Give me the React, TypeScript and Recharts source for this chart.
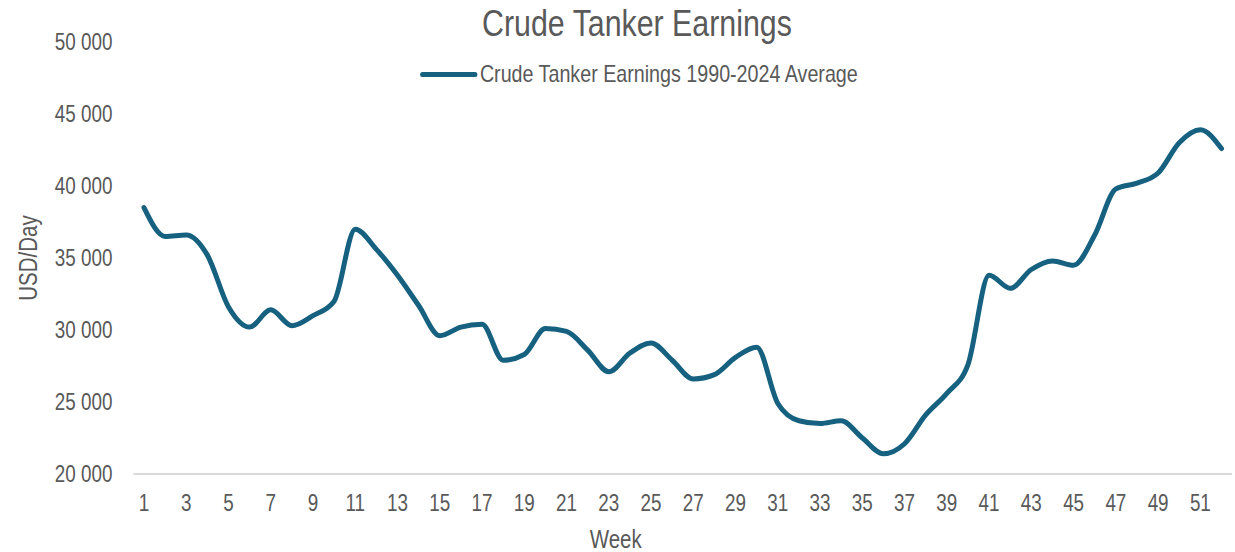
import { LineChart, Line, XAxis, YAxis, Legend } from 'recharts';

const weeks = [
  1, 2, 3, 4, 5, 6, 7, 8, 9, 10, 11, 12, 13, 14, 15, 16, 17, 18, 19, 20, 21, 22, 23, 24, 25, 26,
  27, 28, 29, 30, 31, 32, 33, 34, 35, 36, 37, 38, 39, 40, 41, 42, 43, 44, 45, 46, 47, 48, 49, 50,
  51, 52,
];

// USD/Day, 1990-2024 average by week
const earnings = [
  38500, 36500, 36600, 35200, 31600, 30200, 31400, 30300, 31000, 32000, 37000, 35600, 33800,
  31700, 29600, 30200, 30400, 27900, 28300, 30100, 29900, 28600, 27100, 28400, 29100, 27900,
  26600, 26900, 28100, 28800, 24900, 23700, 23500, 23700, 22500, 21400, 22100, 24100, 25600,
  27600, 33800, 32900, 34200, 34800, 34500, 36600, 39800, 40200, 40900, 43000, 43900, 42600,
];

const yTicks = [20000, 25000, 30000, 35000, 40000, 45000, 50000];

const data = weeks.map((w, i) => ({ week: w, avg: earnings[i] }));

// no Arial Narrow available, so squeeze Liberation Sans horizontally
const FONT = '"Liberation Sans", Arial, sans-serif';
const SQUEEZE = 0.82;
const TEXT = '#595959';
const LINE = '#166080';

const fmt = (v: number) => String(v).replace(/\B(?=(\d{3})+(?!\d))/g, ' ');

function NarrowText({ x, y, anchor, dy, size, rotate = 0, children }: any) {
  return (
    <g transform={`translate(${x},${y}) rotate(${rotate})`}>
      <text
        transform={`scale(${SQUEEZE},1)`}
        textAnchor={anchor}
        dy={dy}
        fill={TEXT}
        fontSize={size}
        fontFamily={FONT}
      >
        {children}
      </text>
    </g>
  );
}

const YTick = ({ x, y, payload }: any) => (
  <NarrowText x={x} y={y} anchor="end" dy="0.355em" size={23}>
    {fmt(payload.value)}
  </NarrowText>
);

const XTick = ({ x, y, payload }: any) => (
  <NarrowText x={x} y={y} anchor="middle" dy="0.71em" size={23}>
    {payload.value}
  </NarrowText>
);

function LegendBox() {
  return (
    <div style={{ display: 'flex', justifyContent: 'center' }}>
      <div
        style={{
          display: 'flex',
          alignItems: 'center',
          fontFamily: FONT,
          transform: `scaleX(${SQUEEZE})`,
          transformOrigin: 'center',
        }}
      >
        <span
          style={{ display: 'inline-block', width: 70, height: 5, borderRadius: 3, background: LINE, marginRight: 3 }}
        />
        <span style={{ fontSize: 24, color: TEXT }}>Crude Tanker Earnings 1990-2024 Average</span>
      </div>
    </div>
  );
}

export default function App() {
  return (
    <div style={{ position: 'absolute', left: 0, top: 0, width: 1235, height: 552, background: '#fff' }}>
      <div
        style={{
          position: 'absolute',
          top: 3,
          left: 0,
          width: 1274,
          textAlign: 'center',
          fontFamily: FONT,
          fontSize: 37,
          color: TEXT,
          transform: `scaleX(${SQUEEZE})`,
          transformOrigin: '637px 0',
        }}
      >
        Crude Tanker Earnings
      </div>
      <LineChart width={1235} height={552} data={data} margin={{ top: 42, right: 3, left: 0, bottom: 0 }}>
        <XAxis
          dataKey="week"
          interval={1}
          padding={{ left: 10.5, right: 10.5 }}
          stroke="#d9d9d9"
          strokeWidth={2}
          tickLine={false}
          tickSize={0}
          tickMargin={21}
          height={78}
          tick={<XTick />}
          label={{
            value: 'Week',
            content: ({ viewBox }: any) => (
              <NarrowText x={viewBox.x + viewBox.width / 2 - 67} y={548} anchor="middle" dy={0} size={25}>
                Week
              </NarrowText>
            ),
          }}
        />
        <YAxis
          domain={[20000, 50000]}
          ticks={yTicks}
          tickFormatter={fmt}
          axisLine={false}
          tickLine={false}
          tickSize={0}
          tickMargin={21}
          width={133.5}
          tick={<YTick />}
          label={{
            value: 'USD/Day',
            content: ({ viewBox }: any) => (
              <NarrowText
                x={28}
                y={viewBox.y + viewBox.height / 2}
                anchor="middle"
                dy="0.355em"
                size={25}
                rotate={-90}
              >
                USD/Day
              </NarrowText>
            ),
          }}
        />
        <Legend
          verticalAlign="middle"
          align="center"
          wrapperStyle={{ top: 60, left: 0, width: 1278 }}
          content={() => <LegendBox />}
        />
        <Line
          type="monotone"
          dataKey="avg"
          name="Crude Tanker Earnings 1990-2024 Average"
          stroke={LINE}
          strokeWidth={5}
          strokeLinecap="round"
          dot={false}
          activeDot={false}
          isAnimationActive={false}
        />
      </LineChart>
    </div>
  );
}
